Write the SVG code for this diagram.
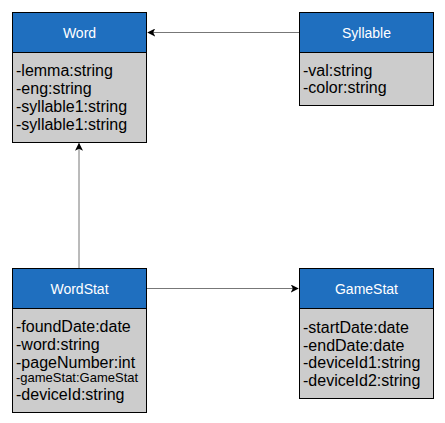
<svg xmlns="http://www.w3.org/2000/svg" width="445" height="423" viewBox="0 0 445 423">
<style>
.hdr{fill:#1f6fbf;stroke:#000;stroke-width:1}
.body{fill:#cccccc;stroke:#000;stroke-width:1}
.title{font-family:"Liberation Sans",Arial,sans-serif;font-size:14px;fill:#fff;text-anchor:middle}
.attr{font-family:"Liberation Sans",Arial,sans-serif;font-size:16px;fill:#000}
.small{font-size:13px}
.conn{stroke:#777;stroke-width:1;fill:none;marker-end:url(#arr)}
</style>
<defs>
<marker id="arr" viewBox="0 0 10 10" refX="9" refY="5" markerWidth="8" markerHeight="8" markerUnits="userSpaceOnUse" orient="auto">
<path d="M0,0 L10,5 L0,10 L2.5,5 Z" fill="#000"/>
</marker>
</defs>
<rect width="445" height="423" fill="#fff"/>
<g id="connectors">
<line class="conn" x1="299" y1="32.5" x2="148" y2="32.5"/>
<line class="conn" x1="79" y1="268" x2="79" y2="143.5"/>
<line class="conn" x1="147" y1="288.5" x2="298" y2="288.5"/>
</g>
<g id="Word">
<rect class="body" x="12.5" y="52.5" width="134" height="90"/>
<rect class="hdr" x="12.5" y="12.5" width="134" height="40"/>
<text class="title" x="79.5" y="38">Word</text>
<text class="attr" x="16" y="75.5">-lemma:string</text>
<text class="attr" x="16" y="93.8">-eng:string</text>
<text class="attr" x="16" y="112">-syllable1:string</text>
<text class="attr" x="16" y="130.3">-syllable1:string</text>
</g>
<g id="Syllable">
<rect class="body" x="299.5" y="52.5" width="134" height="53"/>
<rect class="hdr" x="299.5" y="12.5" width="134" height="40"/>
<text class="title" x="366.5" y="38">Syllable</text>
<text class="attr" x="303" y="75.5">-val:string</text>
<text class="attr" x="303" y="93">-color:string</text>
</g>
<g id="WordStat">
<rect class="body" x="12.5" y="308.5" width="134" height="104"/>
<rect class="hdr" x="12.5" y="268.5" width="134" height="40"/>
<text class="title" x="79.5" y="294">WordStat</text>
<text class="attr" x="16" y="332">-foundDate:date</text>
<text class="attr" x="16" y="350">-word:string</text>
<text class="attr" x="16" y="367.5">-pageNumber:int</text>
<text class="attr small" x="16" y="382">-gameStat:GameStat</text>
<text class="attr" x="16" y="399.5">-deviceId:string</text>
</g>
<g id="GameStat">
<rect class="body" x="299.5" y="308.5" width="134" height="90"/>
<rect class="hdr" x="299.5" y="268.5" width="134" height="40"/>
<text class="title" x="366.5" y="294">GameStat</text>
<text class="attr" x="303" y="333.3">-startDate:date</text>
<text class="attr" x="303" y="350.8">-endDate:date</text>
<text class="attr" x="303" y="368.3">-deviceId1:string</text>
<text class="attr" x="303" y="386">-deviceId2:string</text>
</g>
</svg>
